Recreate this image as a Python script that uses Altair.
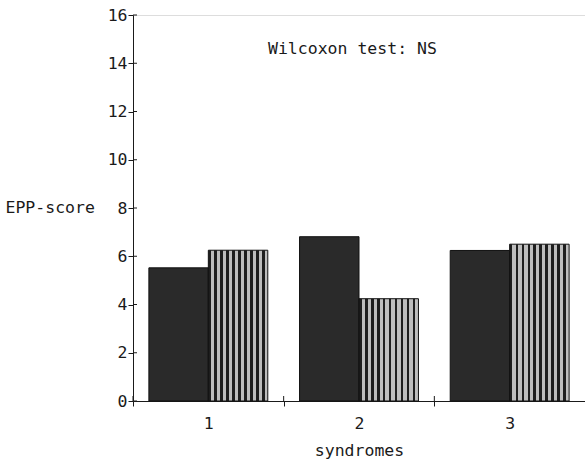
import altair as alt
import pandas as pd

# ---- data ----
syndromes = ["1", "2", "3"]
series_dark = [5.52, 6.81, 6.24]
series_hatched = [6.25, 4.24, 6.50]
y_ticks = [0, 2, 4, 6, 8, 10, 12, 14, 16]
annotation = "Wilcoxon test: NS"
y_title = "EPP-score"
x_title = "syndromes"

rows = []
for s, a, b in zip(syndromes, series_dark, series_hatched):
    rows.append({"syndrome": s, "series": "a", "value": a})
    rows.append({"syndrome": s, "series": "b", "value": b})
df = pd.DataFrame(rows)
ticks_df = pd.DataFrame({"value": y_ticks})
cats_df = pd.DataFrame({"syndrome": syndromes})

FONT = "DejaVu Sans Mono"
FS = 16.5
TXT = "#1a1a1a"
LINE = "#1a1a1a"
W, H = 452, 386

# striped fill to imitate the hatched pattern
stops = []
n = 10
for i in range(n):
    o0 = i / n
    o1 = (i + 0.45) / n
    o2 = (i + 1) / n
    stops.append(alt.GradientStop(color="#1e1e1e", offset=o0))
    stops.append(alt.GradientStop(color="#1e1e1e", offset=o1))
    stops.append(alt.GradientStop(color="#bdbdbd", offset=o1))
    stops.append(alt.GradientStop(color="#bdbdbd", offset=o2))
hatch = alt.Gradient(gradient="linear", stops=stops, x1=0, x2=1, y1=0, y2=0)

x_scale = alt.Scale(domain=syndromes, paddingInner=0, paddingOuter=0)
xo_scale = alt.Scale(domain=["a", "b"], paddingInner=0, paddingOuter=0.267)
y_scale = alt.Scale(domain=[0, 16], nice=False)

x_axis = alt.Axis(
    orient="bottom", tickBand="extent", tickSize=5, tickColor=LINE,
    domainColor=LINE, labelAngle=0, labelPadding=9,
    labelFont=FONT, labelFontSize=FS, labelColor=TXT,
    title=x_title, titleFont=FONT, titleFontSize=FS, titleColor=TXT,
    titleFontWeight="normal", titlePadding=11, grid=False)
y_axis = alt.Axis(
    orient="left", values=y_ticks, tickSize=5, tickColor=LINE,
    domainColor=LINE, labelPadding=1, labelFont=FONT,
    labelFontSize=FS, labelColor=TXT, grid=False,
    title=y_title, titleFont=FONT, titleFontSize=FS, titleColor=TXT,
    titleFontWeight="normal", titleAngle=0, titleAlign="left",
    titleBaseline="middle", titleX=-128, titleY=192)

base = alt.Chart(df)

dark = base.transform_filter(alt.datum.series == "a").mark_bar(
    fill="#2a2a2a", stroke="#111111", strokeWidth=1
).encode(
    x=alt.X("syndrome:N", scale=x_scale, axis=x_axis),
    xOffset=alt.XOffset("series:N", scale=xo_scale),
    y=alt.Y("value:Q", scale=y_scale, axis=y_axis),
)

hatched = base.transform_filter(alt.datum.series == "b").mark_bar(
    fill=hatch, stroke="#111111", strokeWidth=1
).encode(
    x=alt.X("syndrome:N", scale=x_scale, axis=x_axis),
    xOffset=alt.XOffset("series:N", scale=xo_scale),
    y=alt.Y("value:Q", scale=y_scale, axis=y_axis),
)

# inward halves of the y tick marks
y_inner = alt.Chart(ticks_df).mark_rule(color=LINE, strokeWidth=1).encode(
    y=alt.Y("value:Q", scale=y_scale, axis=y_axis),
    x=alt.value(0), x2=alt.value(4),
)

# inward halves of the x tick marks (band boundaries)
x_inner = alt.Chart(cats_df).mark_rule(color=LINE, strokeWidth=1).encode(
    x=alt.X("syndrome:N", scale=x_scale, bandPosition=0, axis=x_axis),
    y=alt.value(H), y2=alt.value(H - 5),
)

note = alt.Chart(pd.DataFrame({"t": [annotation]})).mark_text(
    font=FONT, fontSize=FS, color=TXT, align="left", baseline="middle"
).encode(text="t:N", x=alt.value(135), y=alt.value(34))

chart = alt.layer(dark, hatched, y_inner, x_inner, note).properties(
    width=W, height=H,
    autosize=alt.AutoSizeParams(type="none"),
    padding={"left": 133, "top": 15, "right": 0, "bottom": 63},
).configure_view(stroke=None).configure(background="white")

chart.save("out.html", embed_options={"renderer": "svg", "actions": False})
